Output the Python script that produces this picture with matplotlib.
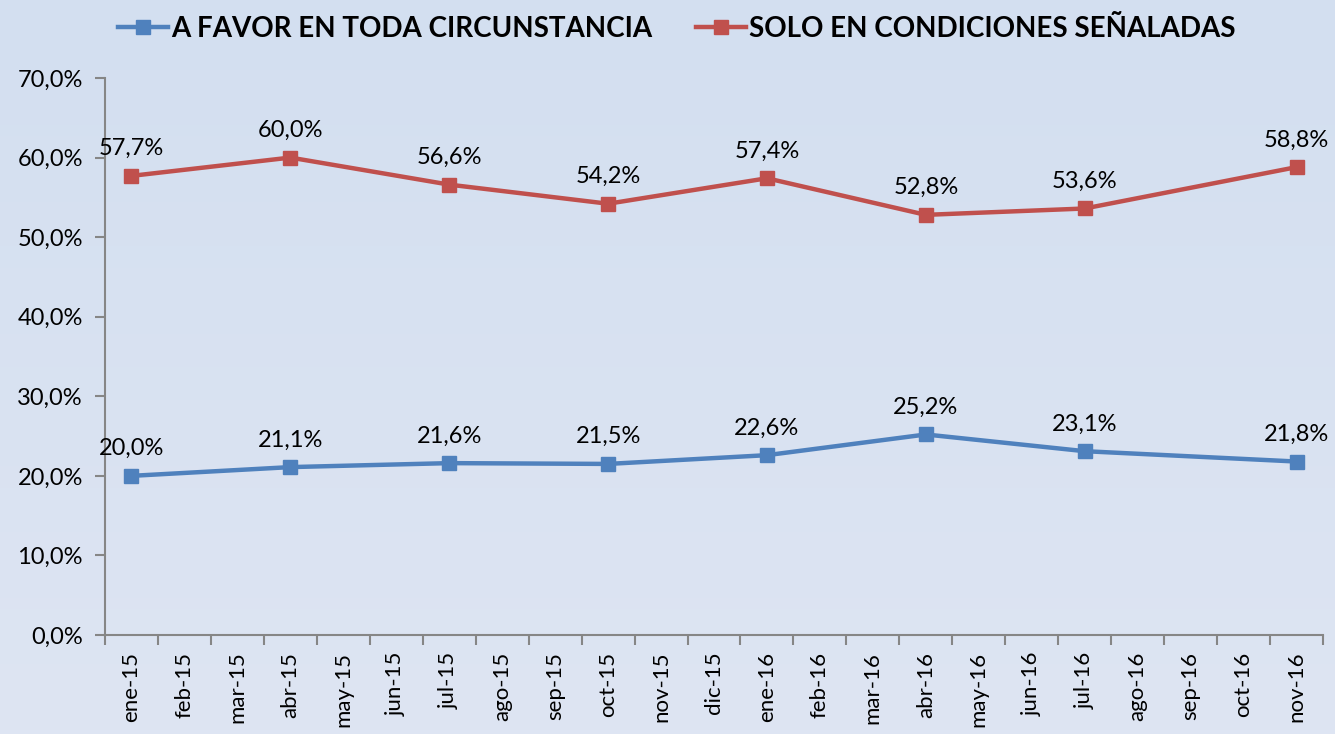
import numpy as np
import matplotlib.pyplot as plt

plt.rcParams['font.family'] = ['Lato', 'DejaVu Sans']

months = ["ene-15", "feb-15", "mar-15", "abr-15", "may-15", "jun-15", "jul-15",
          "ago-15", "sep-15", "oct-15", "nov-15", "dic-15", "ene-16", "feb-16",
          "mar-16", "abr-16", "may-16", "jun-16", "jul-16", "ago-16", "sep-16",
          "oct-16", "nov-16"]
survey_months = ["ene-15", "abr-15", "jul-15", "oct-15", "ene-16", "abr-16", "jul-16", "nov-16"]
a_favor = [20.0, 21.1, 21.6, 21.5, 22.6, 25.2, 23.1, 21.8]
solo_cond = [57.7, 60.0, 56.6, 54.2, 57.4, 52.8, 53.6, 58.8]
yticks = [0, 10, 20, 30, 40, 50, 60, 70]

blue = "#4F81BD"
red = "#C0504D"

fig = plt.figure(figsize=(13.35, 7.34), dpi=100)

# background gradient
bg = fig.add_axes([0, 0, 1, 1], zorder=-10)
top = np.array([211, 223, 240]) / 255
bot = np.array([222, 229, 243]) / 255
t = np.linspace(0, 1, 200)[:, None]
grad = top * (1 - t) + bot * t
bg.imshow(grad[:, None, :], aspect="auto", extent=[0, 1, 0, 1])
bg.axis("off")

ax = fig.add_axes([105 / 1335, 1 - 635 / 734, (1323 - 105) / 1335, (635 - 78) / 734])
ax.patch.set_alpha(0)

xs = [months.index(m) for m in survey_months]
ax.plot(xs, a_favor, color=blue, lw=3.2, marker="s", ms=10, label="A FAVOR EN TODA CIRCUNSTANCIA")
ax.plot(xs, solo_cond, color=red, lw=3.2, marker="s", ms=10, label="SOLO EN CONDICIONES SEÑALADAS")

for x, v in zip(xs, a_favor):
    ax.annotate(f"{v:.1f}%".replace(".", ","), (x, v), xytext=(0, 12), textcoords="offset points",
                ha="center", va="bottom", fontsize=17, clip_on=False)
for x, v in zip(xs, solo_cond):
    ax.annotate(f"{v:.1f}%".replace(".", ","), (x, v), xytext=(0, 12), textcoords="offset points",
                ha="center", va="bottom", fontsize=17, clip_on=False)

ax.set_xlim(-0.5, len(months) - 0.5)
ax.set_ylim(0, 70)
ax.set_yticks(yticks)
ax.set_yticklabels([f"{v:.1f}%".replace(".", ",") for v in yticks], fontsize=17)
ax.set_xticks(range(len(months)))
ax.set_xticklabels(months, rotation=90, fontsize=16)
ax.tick_params(axis="x", length=0, pad=12)
ax.set_xticks(np.arange(-0.5, len(months)), minor=True)
ax.tick_params(axis="x", which="minor", length=7, color="#868686", width=1.5)
ax.tick_params(axis="y", length=7, color="#868686", width=1.5, pad=9)

for s in ["top", "right"]:
    ax.spines[s].set_visible(False)
for s in ["left", "bottom"]:
    ax.spines[s].set_color("#868686")
    ax.spines[s].set_linewidth(1.5)

fig.legend(loc="upper center", bbox_to_anchor=(0.507, 1.012), ncol=2, frameon=False,
           prop={"weight": "bold", "size": 20}, handlelength=1.8, columnspacing=1.6,
           handletextpad=0.1)

fig.savefig("out.png", dpi=100)
